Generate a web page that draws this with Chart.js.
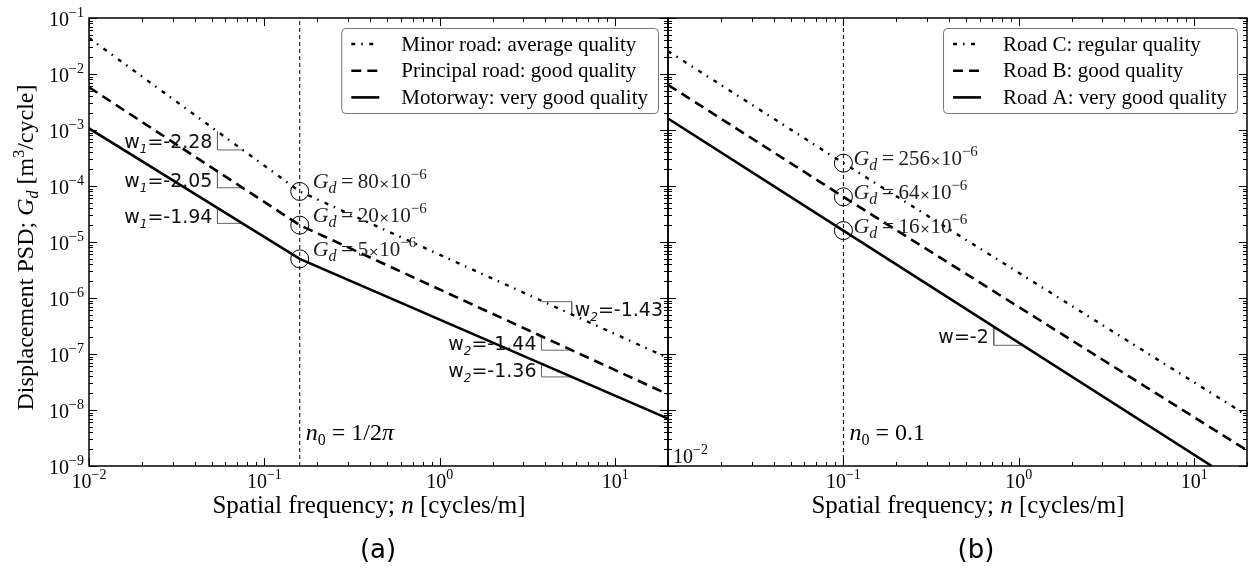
<!DOCTYPE html>
<html>
<head>
<meta charset="utf-8">
<script src="https://cdn.jsdelivr.net/npm/chart.js@4.4.1/dist/chart.umd.min.js"></script>
<style>
  body { margin: 0; background: #fff; }
  #wrap { position: relative; width: 1249px; height: 569px; }
  #wrap canvas { position: absolute; left: 0; top: 0; }
</style>
</head>
<body>
<div id="wrap">
  <canvas id="chartA" width="1249" height="569"></canvas>
  <canvas id="chartB" width="1249" height="569"></canvas>
</div>
<script>
// panel (a): break frequency n0 = 1/2pi, values at n = 0.01, n0, 20
var freqA = [0.01, 0.159, 20];
var minorRoad = [0.044, 80e-6, 8.5e-8];
var principalRoad = [5.8e-3, 20e-6, 1.9e-8];
var motorway = [1.07e-3, 5e-6, 7e-9];
var namesA = ['Minor road: average quality', 'Principal road: good quality', 'Motorway: very good quality'];
var gdA = ['80', '20', '5'];
var w1A = ['-2.28', '-2.05', '-1.94'];
var w2A = ['-1.43', '-1.44', '-1.36'];

// panel (b): n0 = 0.1
var freqB = [0.01, 0.1, 20];
var roadC = [0.0256, 256e-6, 8e-9];
var roadB = [6.4e-3, 64e-6, 1.9e-9];
var freqRoadA = [0.01, 0.1, 12.6];
var roadA = [1.6e-3, 16e-6, 1e-9];
var namesB = ['Road C: regular quality', 'Road B: good quality', 'Road A: very good quality'];
var gdB = ['256', '64', '16'];
var wB = ['-2'];

// tick labels (powers of ten)
var xTicksA = [-2, -1, 0, 1];
var xTicksB = [-1, 0, 1];
var yTicksA = [-1, -2, -3, -4, -5, -6, -7, -8, -9];

// slope triangles, corner points [n, Gd]
var triW1A = [
  [[0.054, 9.4e-4], [0.054, 4.4e-4], [0.075, 4.4e-4]],
  [[0.054, 1.83e-4], [0.054, 9.3e-5], [0.075, 9.3e-5]],
  [[0.054, 4.1e-5], [0.054, 2.15e-5], [0.075, 2.15e-5]]
];
var triW2A = [
  [[3.8, 8.6e-7], [5.65, 8.6e-7], [5.65, 4.9e-7]],
  [[3.8, 2.07e-7], [3.8, 1.17e-7], [5.65, 1.17e-7]],
  [[3.8, 6.7e-8], [3.8, 3.9e-8], [5.65, 3.9e-8]]
];
var triB = [
  [[0.72, 3.06e-7], [0.72, 1.43e-7], [1.06, 1.43e-7]]
];

var SERIF = "'Liberation Serif', 'DejaVu Serif', serif";
var SANS = "'DejaVu Sans', Verdana, sans-serif";

function pts(xs, ys) {
  return xs.map(function (n, i) { return { x: n, y: ys[i] }; });
}

function lineSet(label, xs, ys, dash, width) {
  return {
    label: label, data: pts(xs, ys), borderColor: '#000', borderWidth: width,
    borderDash: dash, pointRadius: 0, fill: false, tension: 0
  };
}

function circleSet(n0, values) {
  return {
    type: 'scatter', label: 'circles',
    data: values.map(function (v) { return { x: n0, y: v }; }),
    pointRadius: 9, pointBorderWidth: 1, pointBorderColor: '#000',
    pointBackgroundColor: 'rgba(0,0,0,0)', showLine: false
  };
}

function n0Set(n0) {
  return {
    label: 'n0', data: [{ x: n0, y: 1e-9 }, { x: n0, y: 1e-1 }],
    borderColor: '#000', borderWidth: 1, borderDash: [4, 3], pointRadius: 0
  };
}

function triSet(tri) {
  return {
    label: 'tri', data: tri.map(function (p) { return { x: p[0], y: p[1] }; }),
    borderColor: '#666', borderWidth: 1, pointRadius: 0
  };
}

// write mixed text: parts = [text, font, dy]
function rich(ctx, parts, x, y, align) {
  var w = 0;
  parts.forEach(function (p) { ctx.font = p[1]; w += ctx.measureText(p[0]).width; });
  var cx = align === 'right' ? x - w : (align === 'center' ? x - w / 2 : x);
  parts.forEach(function (p) {
    ctx.font = p[1];
    ctx.fillText(p[0], cx, y + (p[2] || 0));
    cx += ctx.measureText(p[0]).width;
  });
  return w;
}

function pow10(e) {
  var s = e < 0 ? '\u2212' + (-e) : String(e);
  return [['10', '20px ' + SERIF], [s, '14px ' + SERIF, -9]];
}

var decor = {
  id: 'decor',
  afterDraw: function (chart, args, o) {
    var ctx = chart.ctx, a = chart.chartArea, xs = chart.scales.x, ys = chart.scales.y;
    var ds = chart.data.datasets;
    ctx.save();
    ctx.textBaseline = 'alphabetic';
    ctx.textAlign = 'left';

    // inward ticks on all four sides
    ctx.strokeStyle = '#000';
    ctx.lineWidth = 1;
    ctx.beginPath();
    var e, m, v, p, len;
    for (e = -2; e <= 1; e++) {
      for (m = 1; m <= 9; m++) {
        v = m * Math.pow(10, e);
        if (v < xs.min || v > xs.max) continue;
        p = Math.round(xs.getPixelForValue(v)) + 0.5;
        len = m === 1 ? 8 : 4;
        ctx.moveTo(p, a.bottom); ctx.lineTo(p, a.bottom - len);
        ctx.moveTo(p, a.top); ctx.lineTo(p, a.top + len);
      }
    }
    for (e = -9; e <= -1; e++) {
      for (m = 1; m <= 9; m++) {
        v = m * Math.pow(10, e);
        if (v < ys.min || v > ys.max * 1.0001) continue;
        p = Math.round(ys.getPixelForValue(v)) + 0.5;
        len = m === 1 ? 8 : 4;
        ctx.moveTo(a.left, p); ctx.lineTo(a.left + len, p);
        ctx.moveTo(a.right, p); ctx.lineTo(a.right - len, p);
      }
    }
    ctx.stroke();

    // spines
    ctx.lineWidth = 1.5;
    ctx.strokeRect(a.left, a.top, a.right - a.left, a.bottom - a.top);

    // tick labels
    ctx.fillStyle = '#000';
    o.xTicks.forEach(function (t) {
      rich(ctx, pow10(t), xs.getPixelForValue(Math.pow(10, t)), a.bottom + 22, 'center');
    });
    (o.yTicks || []).forEach(function (t) {
      rich(ctx, pow10(t), a.left - 5, ys.getPixelForValue(Math.pow(10, t)) + 8, 'right');
    });
    if (o.innerTick !== undefined) {
      rich(ctx, pow10(o.innerTick), a.left + 5, a.bottom - 3, 'left');
    }

    // axis titles and panel label
    var f25 = '25px ' + SERIF, i25 = 'italic 25px ' + SERIF, i16 = 'italic 16px ' + SERIF;
    rich(ctx, [['Spatial frequency; ', f25], ['n', i25], [' [cycles/m]', f25]], o.xTitleX, 513, 'center');
    if (o.yTitle) {
      var f24 = '24px ' + SERIF, i24 = 'italic 24px ' + SERIF;
      ctx.save();
      ctx.translate(33, 247.5);
      ctx.rotate(-Math.PI / 2);
      rich(ctx, [['Displacement PSD; ', f24], ['G', i24], ['d', i16, 5], [' [m', f24],
        ['3', '16px ' + SERIF, -9], ['/cycle]', f24]], 0, 0, 'center');
      ctx.restore();
    }
    ctx.font = '26px ' + SANS;
    ctx.textAlign = 'center';
    ctx.fillText(o.panel, o.panelX, 558);
    ctx.textAlign = 'left';

    // n0 label next to dashed line
    var nx = xs.getPixelForValue(ds[3].data[0].x);
    var f24b = '24px ' + SERIF, i24b = 'italic 24px ' + SERIF;
    rich(ctx, [['n', i24b], ['0', '16px ' + SERIF, 5], [o.n0Text, f24b]].concat(o.n0Pi ? [['\u03c0', i24b]] : []),
      nx + 6, a.bottom - 26, 'left');

    // Gd labels beside the circles
    var cm = chart.getDatasetMeta(4).data;
    o.gd.forEach(function (g, i) {
      ctx.fillStyle = '#222';
      rich(ctx, [['G', 'italic 22px ' + SERIF], ['d', i16, 5], ['\u2009=\u2009', '22px ' + SERIF],
        [g, '21px ' + SERIF], ['\u00d7', '13px ' + SANS], ['10', '21px ' + SERIF], ['\u22126', '15px ' + SERIF, -9]],
        cm[i].x + o.gdDx, cm[i].y + o.gdDy, 'left');
    });

    // slope labels
    ctx.fillStyle = '#111';
    var f19 = '19px ' + SANS;
    o.slopes.forEach(function (s) {
      var d = chart.getDatasetMeta(s.ds).data;
      var k = Math.abs(d[0].x - d[1].x) < 0.5 ? 0 : 1;
      var vx = d[k].x, mid = (d[k].y + d[k + 1].y) / 2 + 7;
      var parts = [['w', f19]];
      if (s.sub) parts.push([s.sub, 'italic 12px ' + SANS, 5]);
      parts.push(['=' + s.val, f19]);
      if (s.right) rich(ctx, parts, vx + 3, mid, 'left');
      else rich(ctx, parts, vx - 5, mid, 'right');
    });

    // legend box, top right of the panel
    var sets = ds.slice(0, 3);
    var lf = '21px ' + SERIF;
    ctx.font = lf;
    var tw = Math.max.apply(null, sets.map(function (s) { return ctx.measureText(s.label).width; }));
    var pad = 10, sample = 28, gap = 22, rowH = 26.7;
    var w = pad + sample + gap + tw + pad, h = 85;
    var x0 = a.right - 10 - w, y0 = a.top + 10;
    ctx.fillStyle = '#fff';
    ctx.strokeStyle = '#777';
    ctx.lineWidth = 1;
    ctx.beginPath();
    ctx.roundRect(x0 + 0.5, y0 + 0.5, w, h, 4);
    ctx.fill();
    ctx.stroke();
    sets.forEach(function (s, i) {
      var yy = y0 + 16 + i * rowH;
      ctx.strokeStyle = '#000';
      ctx.lineWidth = s.borderWidth;
      ctx.setLineDash(s.borderDash || []);
      ctx.beginPath();
      ctx.moveTo(x0 + pad, yy);
      ctx.lineTo(x0 + pad + sample, yy);
      ctx.stroke();
      ctx.setLineDash([]);
      ctx.fillStyle = '#000';
      ctx.font = lf;
      ctx.textBaseline = 'middle';
      ctx.fillText(s.label, x0 + pad + sample + gap, yy + 1);
      ctx.textBaseline = 'alphabetic';
    });
    ctx.restore();
  }
};

var dotDash = [4, 6, 1.5, 6.5];
var dashed = [10, 6];

function makeChart(id, padL, padR, datasets, deco) {
  return new Chart(document.getElementById(id), {
    type: 'line',
    data: { datasets: datasets },
    options: {
      responsive: false,
      animation: false,
      events: [],
      layout: { autoPadding: false, padding: { left: padL, right: padR, top: 18, bottom: 103 } },
      scales: {
        x: { type: 'logarithmic', min: 0.01, max: 20, display: false, ticks: { display: false } },
        y: { type: 'logarithmic', min: 1e-9, max: 1e-1, display: false, ticks: { display: false } }
      },
      plugins: { legend: { display: false }, tooltip: { enabled: false }, decor: deco }
    },
    plugins: [decor]
  });
}

var setsA = [
  lineSet(namesA[0], freqA, minorRoad, dotDash, 2.4),
  lineSet(namesA[1], freqA, principalRoad, dashed, 2.6),
  lineSet(namesA[2], freqA, motorway, [], 2.6),
  n0Set(freqA[1]),
  circleSet(freqA[1], [minorRoad[1], principalRoad[1], motorway[1]])
].concat(triW1A.map(triSet), triW2A.map(triSet));

makeChart('chartA', 89, 1249 - 668, setsA, {
  xTicks: xTicksA, yTicks: yTicksA, yTitle: true, xTitleX: 369, panel: '(a)', panelX: 378,
  n0Text: ' = 1/2', n0Pi: true, gd: gdA, gdDx: 13, gdDy: -3,
  slopes: [
    { ds: 5, sub: '1', val: w1A[0] }, { ds: 6, sub: '1', val: w1A[1] }, { ds: 7, sub: '1', val: w1A[2] },
    { ds: 8, sub: '2', val: w2A[0], right: true }, { ds: 9, sub: '2', val: w2A[1] }, { ds: 10, sub: '2', val: w2A[2] }
  ]
});

var setsB = [
  lineSet(namesB[0], freqB, roadC, dotDash, 2.4),
  lineSet(namesB[1], freqB, roadB, dashed, 2.6),
  lineSet(namesB[2], freqRoadA, roadA, [], 2.6),
  n0Set(freqB[1]),
  circleSet(freqB[1], [roadC[1], roadB[1], roadA[1]])
].concat(triB.map(triSet));

makeChart('chartB', 668, 2, setsB, {
  xTicks: xTicksB, innerTick: -2, xTitleX: 968, panel: '(b)', panelX: 976,
  n0Text: ' = 0.1', n0Pi: false, gd: gdB, gdDx: 10, gdDy: 2,
  slopes: [{ ds: 5, sub: '', val: wB[0] }]
});
</script>
</body>
</html>
